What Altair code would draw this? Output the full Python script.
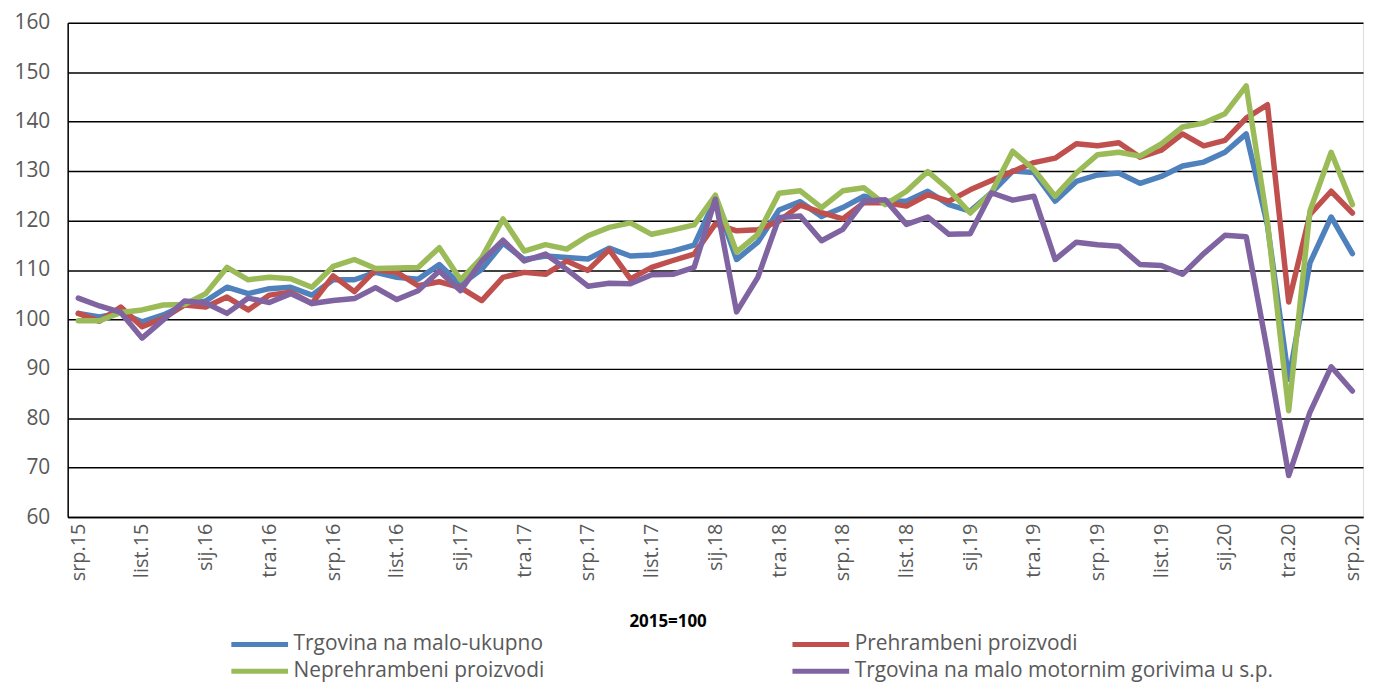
import altair as alt
import pandas as pd

month_abbr = ["sij", "velj", "ožu", "tra", "svi", "lip", "srp", "kol", "ruj", "list", "stu", "pro"]
months = [f"{month_abbr[(6 + i) % 12]}.{15 + (6 + i) // 12}" for i in range(61)]
shown_labels = ["srp.15", "list.15", "sij.16", "tra.16", "srp.16", "list.16", "sij.17", "tra.17",
                "srp.17", "list.17", "sij.18", "tra.18", "srp.18", "list.18", "sij.19", "tra.19",
                "srp.19", "list.19", "sij.20", "tra.20", "srp.20"]

series_names = ["Trgovina na malo-ukupno", "Prehrambeni proizvodi",
                "Neprehrambeni proizvodi", "Trgovina na malo motornim gorivima u s.p."]
series_colors = ["#4F81BD", "#C0504D", "#9BBB59", "#8064A2"]
# legend fills column by column: reorder so that rows read blue/red, green/purple
legend_order = [0, 2, 1, 3]

ukupno = [101.2, 100.5, 101.3, 99.5, 100.9, 102.9, 103.7, 106.5, 105.2, 106.2, 106.5, 104.9,
          108.0, 108.0, 109.5, 108.5, 108.1, 111.1, 107.0, 110.1, 115.4, 112.1, 112.8, 112.5,
          112.2, 114.4, 112.8, 113.0, 113.8, 115.0, 124.3, 112.1, 115.6, 122.1, 123.8, 120.8,
          122.6, 124.9, 123.9, 123.9, 125.9, 123.2, 121.9, 125.6, 130.0, 129.7, 123.9, 127.9,
          129.2, 129.6, 127.5, 128.9, 131.0, 131.8, 133.8, 137.5, 119.0, 87.9, 111.4, 120.7, 113.3]
prehrambeni = [101.2, 99.6, 102.5, 98.5, 100.2, 102.9, 102.5, 104.5, 101.9, 104.9, 105.5, 103.2,
               108.8, 105.6, 110.0, 109.5, 106.8, 107.6, 106.4, 103.8, 108.5, 109.5, 109.1, 111.8,
               109.9, 114.1, 108.2, 110.5, 111.9, 113.2, 119.3, 117.9, 118.1, 119.9, 123.1, 121.6,
               120.3, 123.6, 123.6, 122.9, 125.2, 123.9, 126.2, 128.1, 129.9, 131.7, 132.6, 135.5,
               135.1, 135.7, 132.8, 134.2, 137.5, 135.1, 136.2, 140.7, 143.4, 103.5, 121.2, 125.9, 121.5]
neprehrambeni = [99.7, 99.7, 101.4, 101.9, 102.9, 103.0, 105.2, 110.5, 108.0, 108.5, 108.2, 106.5,
                 110.7, 112.1, 110.3, 110.4, 110.5, 114.5, 108.0, 112.5, 120.3, 113.8, 115.1, 114.2,
                 116.9, 118.6, 119.5, 117.2, 118.1, 119.1, 125.1, 113.6, 117.2, 125.5, 126.0, 122.6,
                 126.0, 126.6, 123.2, 125.9, 129.9, 126.2, 121.5, 125.6, 134.0, 130.3, 124.9, 129.6,
                 133.3, 133.8, 133.0, 135.5, 138.9, 139.7, 141.6, 147.2, 119.6, 81.5, 121.9, 133.8, 123.2]
goriva = [104.3, 102.7, 101.4, 96.2, 99.9, 103.7, 103.3, 101.2, 104.3, 103.4, 105.2, 103.2,
          103.8, 104.2, 106.4, 104.0, 105.8, 109.8, 105.8, 111.8, 116.0, 111.8, 113.2, 110.1,
          106.7, 107.3, 107.2, 109.0, 109.1, 110.5, 124.3, 101.5, 108.5, 120.6, 120.9, 115.9,
          118.2, 123.9, 124.2, 119.2, 120.7, 117.2, 117.3, 125.6, 124.1, 124.9, 112.1, 115.6,
          115.1, 114.8, 111.1, 110.9, 109.1, 113.3, 117.0, 116.7, 93.5, 68.4, 81.2, 90.4, 85.5]

y_ticks = list(range(60, 161, 10))

df = pd.DataFrame({"month": months, "idx": list(range(len(months))),
                   series_names[0]: ukupno, series_names[1]: prehrambeni,
                   series_names[2]: neprehrambeni, series_names[3]: goriva})
long = df.melt(id_vars=["month", "idx"], var_name="series", value_name="value")

FONT = "Open Sans"

chart = alt.Chart(long).mark_line(strokeWidth=5.5, strokeJoin="round", strokeCap="round").encode(
    x=alt.X("month:N", sort=months, scale=alt.Scale(domain=months),
            axis=alt.Axis(values=shown_labels, labelAngle=270, title="2015=100",
                          labelFontSize=20, labelColor="#595959", labelFont=FONT,
                          labelPadding=6, ticks=False, domainColor="#000000", domainWidth=1.5,
                          titleFont=FONT, titleFontSize=17, titleFontWeight="bold",
                          titleColor="#000000", titleX=603, titleY=105, titleBaseline="middle",
                          titleAlign="center", grid=False)),
    y=alt.Y("value:Q", scale=alt.Scale(domain=[60, 160], nice=False, zero=False),
            axis=alt.Axis(values=y_ticks, title=None, labelFontSize=21, labelColor="#595959",
                          labelFont=FONT, labelPadding=18, ticks=False, grid=True,
                          gridColor="#000000", gridWidth=1.5, domainColor="#000000",
                          domainWidth=1.5)),
    color=alt.Color("series:N",
                    scale=alt.Scale(domain=[series_names[i] for i in legend_order],
                                    range=[series_colors[i] for i in legend_order]),
                    legend=alt.Legend(title=None, orient="none", legendX=176, legendY=608,
                                      columns=2, columnPadding=238, rowPadding=0,
                                      symbolType="M-2,0L2,0", symbolSize=812,
                                      symbolStrokeWidth=5, symbolFillColor="transparent",
                                      labelFont=FONT, labelFontSize=21,
                                      labelColor="#595959", labelLimit=600, padding=0,
                                      labelOffset=17)),
    order=alt.Order("idx:Q"),
).properties(
    width=1302, height=497,
    padding={"left": 5, "top": 2, "right": 3, "bottom": 0},
).configure_view(stroke=None).configure(background="white")

chart.save("out.html", embed_options={"renderer": "svg", "actions": False})
